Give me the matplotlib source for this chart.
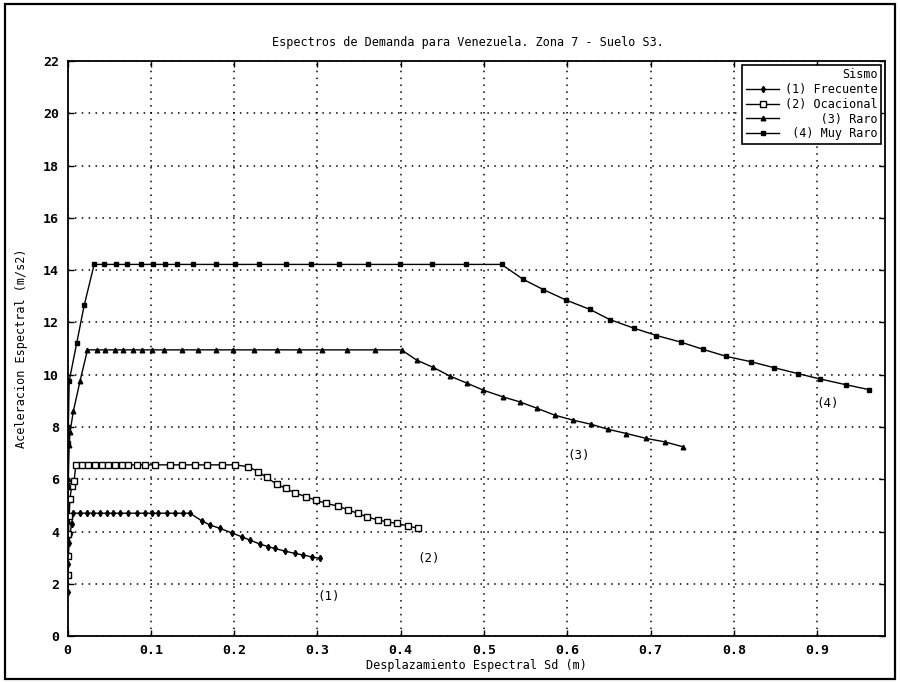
import matplotlib.pyplot as plt
from matplotlib.patches import Rectangle

# Espectros de demanda Sa-Sd (formato ADRS), zona 7, suelo S3
sd_frecuente = [0.000, 0.001, 0.001, 0.002, 0.003, 0.005,
                0.007, 0.015, 0.023, 0.031, 0.039, 0.047, 0.055, 0.063, 0.073,
                0.083, 0.093, 0.101, 0.109, 0.119, 0.129, 0.139, 0.147,
                0.161, 0.171, 0.183, 0.197, 0.209, 0.219, 0.231, 0.241, 0.249,
                0.261, 0.273, 0.283, 0.293, 0.303]
sa_frecuente = [1.70, 2.75, 3.10, 3.55, 3.90, 4.30,
                4.70, 4.70, 4.70, 4.70, 4.70, 4.70, 4.70, 4.70, 4.70,
                4.70, 4.70, 4.70, 4.70, 4.70, 4.70, 4.70, 4.70,
                4.41, 4.25, 4.12, 3.95, 3.80, 3.67, 3.52, 3.42, 3.35,
                3.25, 3.16, 3.10, 3.03, 2.97]

sd_ocasional = [0.000, 0.000, 0.001, 0.002, 0.003, 0.005, 0.008,
                0.010, 0.017, 0.025, 0.033, 0.041, 0.049, 0.057, 0.065, 0.073,
                0.083, 0.093, 0.105, 0.123, 0.137, 0.153, 0.167, 0.185, 0.201,
                0.217, 0.229, 0.239, 0.251, 0.262, 0.273, 0.286, 0.298, 0.310,
                0.325, 0.337, 0.349, 0.359, 0.373, 0.384, 0.395, 0.409, 0.421]
sa_ocasional = [2.35, 3.05, 3.90, 4.60, 5.25, 5.75, 5.95,
                6.55, 6.55, 6.55, 6.55, 6.55, 6.55, 6.55, 6.55, 6.55,
                6.55, 6.55, 6.55, 6.55, 6.55, 6.55, 6.55, 6.55, 6.55,
                6.48, 6.29, 6.07, 5.81, 5.65, 5.48, 5.33, 5.20, 5.08,
                4.97, 4.82, 4.69, 4.56, 4.44, 4.37, 4.31, 4.21, 4.12]

sd_raro = [0.000, 0.001, 0.002, 0.003, 0.007, 0.015,
           0.024, 0.035, 0.045, 0.057, 0.067, 0.079, 0.089, 0.101, 0.116,
           0.137, 0.157, 0.178, 0.199, 0.224, 0.252, 0.278, 0.305, 0.336,
           0.369, 0.401,
           0.419, 0.439, 0.459, 0.480, 0.499, 0.523, 0.543, 0.564, 0.585,
           0.607, 0.629, 0.649, 0.671, 0.695, 0.717, 0.739]
sa_raro = [4.40, 6.00, 7.30, 7.80, 8.60, 9.75,
           10.95, 10.95, 10.95, 10.95, 10.95, 10.95, 10.95, 10.95, 10.95,
           10.95, 10.95, 10.95, 10.95, 10.95, 10.95, 10.95, 10.95, 10.95,
           10.95, 10.95,
           10.56, 10.28, 9.95, 9.67, 9.41, 9.15, 8.96, 8.71, 8.45,
           8.26, 8.10, 7.91, 7.75, 7.56, 7.43, 7.24]

sd_muy_raro = [0.000, 0.000, 0.001, 0.002, 0.011, 0.020,
               0.032, 0.044, 0.058, 0.071, 0.088, 0.103, 0.117, 0.132, 0.151,
               0.178, 0.201, 0.230, 0.262, 0.292, 0.326, 0.361, 0.399, 0.437,
               0.478, 0.521,
               0.547, 0.571, 0.599, 0.627, 0.651, 0.680, 0.707, 0.736, 0.763,
               0.791, 0.820, 0.848, 0.877, 0.903, 0.934, 0.962]
sa_muy_raro = [5.70, 7.40, 8.00, 9.75, 11.20, 12.65,
               14.22, 14.22, 14.22, 14.22, 14.22, 14.22, 14.22, 14.22, 14.22,
               14.22, 14.22, 14.22, 14.22, 14.22, 14.22, 14.22, 14.22, 14.22,
               14.22, 14.22,
               13.65, 13.26, 12.85, 12.50, 12.11, 11.78, 11.50, 11.25, 10.97,
               10.70, 10.50, 10.27, 10.04, 9.84, 9.62, 9.43]

etiquetas = ["(1) Frecuente", "(2) Ocacional", "(3) Raro", "(4) Muy Raro"]
rotulos = ["(1)", "(2)", "(3)", "(4)"]
rotulos_x = [0.313, 0.433, 0.613, 0.913]
rotulos_y = [1.50, 2.95, 6.90, 8.90]

plt.rcParams['font.family'] = ['DejaVu Sans Mono']
plt.rcParams['font.size'] = 8.5

fig = plt.figure(figsize=(9, 6.82), dpi=100)
ax = fig.add_axes([0.075, 0.0674, 0.908, 0.843])

# marco exterior de la figura
fig.patches.append(Rectangle((0.006, 0.004), 0.988, 0.99, transform=fig.transFigure,
                             fill=False, lw=1.6, color="black"))

# texto de la leyenda alineado a la derecha
ancho = max(len(e) for e in etiquetas)
leyenda = [e.rjust(ancho) for e in etiquetas]

ax.plot(sd_frecuente, sa_frecuente, color="black", lw=1.0, marker="d", ms=3.2,
        label=leyenda[0])
ax.plot(sd_ocasional, sa_ocasional, color="black", lw=1.0, marker="s", ms=3.8,
        mfc="white", mec="black", mew=1.0, label=leyenda[1])
ax.plot(sd_raro, sa_raro, color="black", lw=1.0, marker="^", ms=3.3,
        label=leyenda[2])
ax.plot(sd_muy_raro, sa_muy_raro, color="black", lw=1.0, marker="s", ms=3.0,
        label=leyenda[3])

for t, x, y in zip(rotulos, rotulos_x, rotulos_y):
    ax.text(x, y, t, ha="center", va="center", fontsize=9)

ax.set_xlim(0, 0.981)
ax.set_ylim(0, 22)
ax.set_xticks([0, 0.1, 0.2, 0.3, 0.4, 0.5, 0.6, 0.7, 0.8, 0.9])
ax.set_xticklabels(["0", "0.1", "0.2", "0.3", "0.4", "0.5", "0.6", "0.7", "0.8", "0.9"])
ax.set_yticks(range(0, 23, 2))
ax.tick_params(direction="in", top=True, right=True, length=4, width=1,
               labelsize=9.5, pad=6)
for lab in ax.get_xticklabels() + ax.get_yticklabels():
    lab.set_fontweight("bold")
for s in ax.spines.values():
    s.set_linewidth(1.3)

ax.grid(True, color="black", linestyle=(0, (1, 3.5)), lw=1.1)

ax.set_xlabel("Desplazamiento Espectral Sd (m)", labelpad=1, fontsize=8.5)
ax.set_ylabel("Aceleracion Espectral (m/s2)", labelpad=11, fontsize=8.5)
fig.text(0.52, 0.938, "Espectros de Demanda para Venezuela. Zona 7 - Suelo S3.",
         ha="center", va="center", fontsize=8.5)

leg = ax.legend(title="Sismo", loc="upper right", fancybox=False, framealpha=1,
                edgecolor="black", borderaxespad=0.3, handlelength=2.8,
                handletextpad=0.5, labelspacing=0.15, borderpad=0.3,
                alignment="right", fontsize=8.5, title_fontsize=8.5)
leg.get_frame().set_linewidth(1.2)

fig.savefig("out.png", dpi=100)
